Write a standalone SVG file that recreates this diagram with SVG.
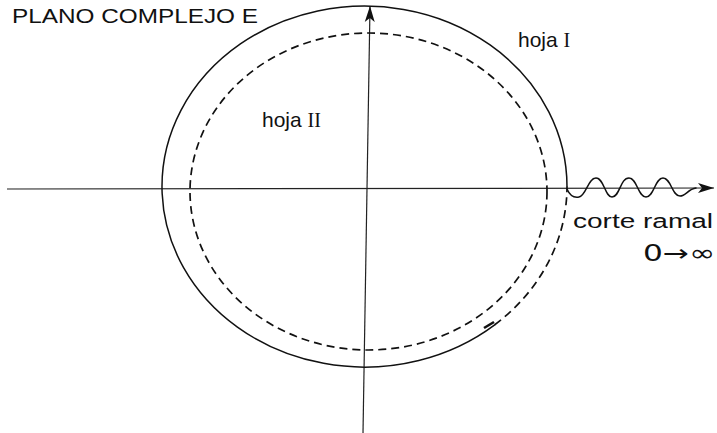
<svg xmlns="http://www.w3.org/2000/svg" width="717" height="433" viewBox="0 0 717 433">
<style>
.ln{fill:none;stroke:#111;stroke-width:1.5;stroke-linecap:round}
.ax{fill:none;stroke:#222;stroke-width:1.2}
.ds{fill:none;stroke:#111;stroke-width:1.7;stroke-dasharray:8 5}
.t{font-family:"Liberation Sans",Arial,sans-serif;fill:#111}
.r{font-family:"Liberation Serif","Times New Roman",serif}
.d{font-family:"DejaVu Sans",sans-serif}
</style>
<defs>
<marker id="arr" markerWidth="18" markerHeight="12" refX="16" refY="6" orient="auto" markerUnits="userSpaceOnUse">
<path d="M0,1 L16,6 L0,11 L4,6 Z" fill="#111"/>
</marker>
</defs>
<rect width="717" height="433" fill="#fff"/>
<g id="axes">
<line class="ax" x1="7" y1="189" x2="714" y2="188" marker-end="url(#arr)"/>
<line class="ax" x1="363" y1="433" x2="370" y2="6" marker-end="url(#arr)"/>
</g>
<g id="hoja-I-circle">
<path class="ln" d="M567,186.5 A202.5,180.5 0 1 0 494.7,324.8"/>
<path class="ds" d="M494.7,324.8 A202.5,180.5 0 0 0 567,186.5"/>
<line x1="484" y1="328" x2="494" y2="322" stroke="#111" stroke-width="2.6"/>
</g>
<g id="hoja-II-circle">
<ellipse class="ds" cx="368.5" cy="191.5" rx="178.5" ry="158.5"/>
</g>
<g id="branch-cut">
<path class="ln" d="M567,189 C570,196 574,198 579,197 C586,196 588,178 596,178 C604,178 605,197 612,197 C620,197 620,178 629,178 C637,178 638,197 646,197 C654,197 655,178 663,178 C671,178 672,196 680,196 C686,196 688,189 696,188"/>
</g>
<g id="labels">
<text class="t" x="12" y="23" font-size="21" textLength="246" lengthAdjust="spacingAndGlyphs">PLANO COMPLEJO E</text>
<text class="t" x="518" y="47" font-size="21">hoja <tspan class="r" font-size="20">I</tspan></text>
<text class="t" x="262" y="127" font-size="21">hoja <tspan class="r" font-size="20">II</tspan></text>
<text class="t" x="573" y="228" font-size="20" textLength="140" lengthAdjust="spacingAndGlyphs">corte ramal</text>
<text class="t d" x="643" y="261" font-size="23" textLength="72" lengthAdjust="spacingAndGlyphs">0→∞</text>
</g>
</svg>
